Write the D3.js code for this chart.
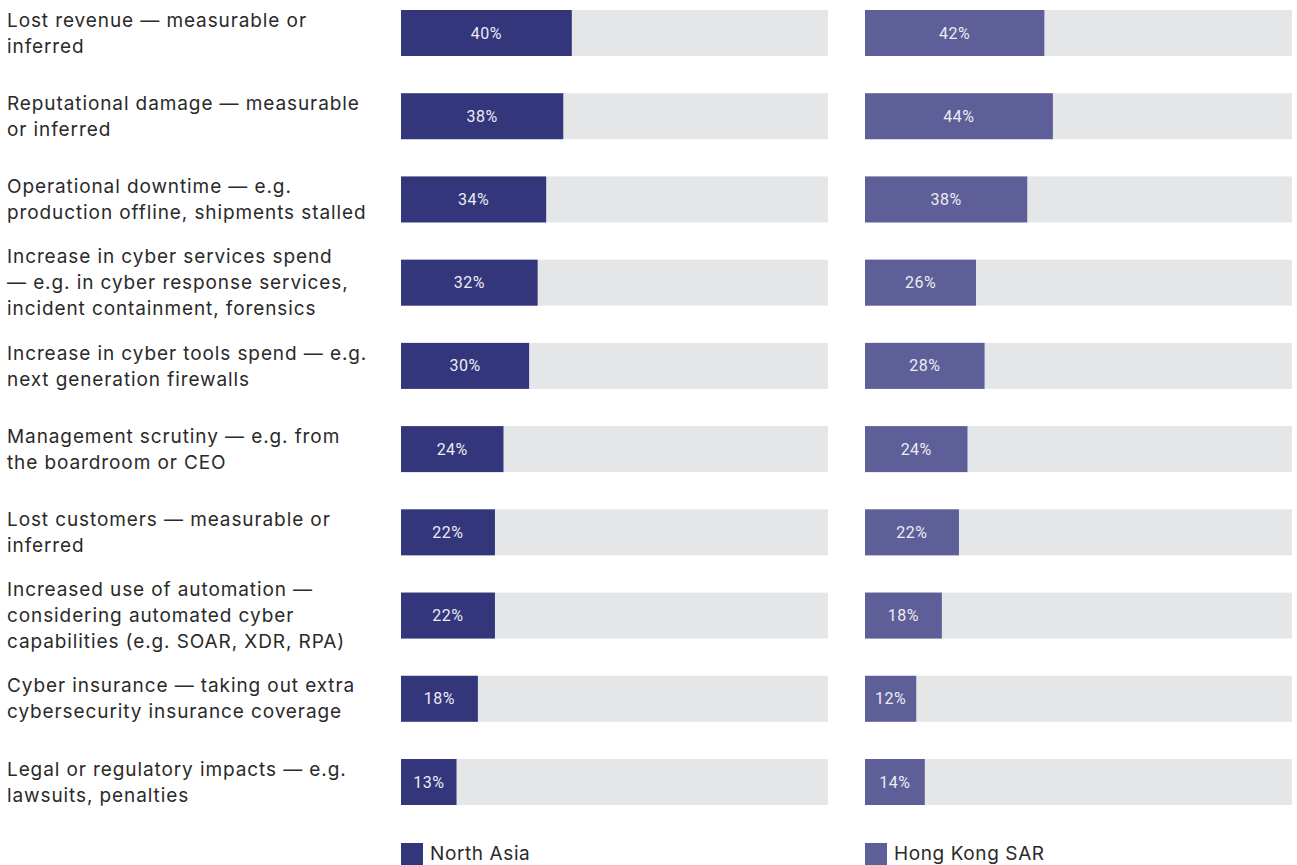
<!DOCTYPE html>
<html>
<head>
<meta charset="utf-8">
<script src="https://cdn.jsdelivr.net/npm/d3@7"></script>
<style>
  body { margin: 0; background: #fff; }
  svg { display: block; }
</style>
</head>
<body>
<div></div>
<script>
'use strict';

// Categories (each line of the label is a separate entry)
var categories = [
  ["Lost revenue \u2014 measurable or", "inferred"],
  ["Reputational damage \u2014 measurable", "or inferred"],
  ["Operational downtime \u2014 e.g.", "production offline, shipments stalled"],
  ["Increase in cyber services spend", "\u2014 e.g. in cyber response services,", "incident containment, forensics"],
  ["Increase in cyber tools spend \u2014 e.g.", "next generation firewalls"],
  ["Management scrutiny \u2014 e.g. from", "the boardroom or CEO"],
  ["Lost customers \u2014 measurable or", "inferred"],
  ["Increased use of automation \u2014", "considering automated cyber", "capabilities (e.g. SOAR, XDR, RPA)"],
  ["Cyber insurance \u2014 taking out extra", "cybersecurity insurance coverage"],
  ["Legal or regulatory impacts \u2014 e.g.", "lawsuits, penalties"]
];
var northAsia = [40, 38, 34, 32, 30, 24, 22, 22, 18, 13];
var hongKong = [42, 44, 38, 26, 28, 24, 22, 18, 12, 14];
var seriesNames = ["North Asia", "Hong Kong SAR"];

var svgWidth = 1297;
var svgHeight = 865;
var colors = ["#33367a", "#5e5f98"];
var trackColor = "#e5e6e8";
var barHeight = 46;

var keys = categories.map(function(d, i) { return i; });

var yScale = d3.scalePoint()
    .domain(keys)
    .range([33, 782]);

var xNA = d3.scaleLinear().domain([0, 100]).range([401, 828]);
var xHK = d3.scaleLinear().domain([0, 100]).range([865, 1292]);

var svg = d3.select("body").select("div")
  .append("svg")
    .attr("width", svgWidth)
    .attr("height", svgHeight);

// Category labels
var labels = svg.append("g")
    .attr("font-family", "Inter, sans-serif")
    .attr("font-size", 19)
    .attr("letter-spacing", 0.9)
    .attr("fill", "#2a2a2a");

labels.selectAll("text")
  .data(categories)
  .enter().append("text")
    .attr("x", 7)
    .attr("y", function(d, i) { return yScale(i) - (d.length - 1) * 13; })
    .each(function(lines) {
      var t = d3.select(this);
      lines.forEach(function(line, j) {
        t.append("tspan")
          .attr("x", 7)
          .attr("dy", j === 0 ? "0.35em" : 26)
          .text(line);
      });
    });

function drawSeries(values, xScale, color) {
  var g = svg.append("g");

  g.selectAll("rect.track")
    .data(values)
    .enter().append("rect")
      .attr("class", "track")
      .attr("x", xScale(0))
      .attr("y", function(d, i) { return yScale(i) - barHeight / 2; })
      .attr("width", xScale(100) - xScale(0))
      .attr("height", barHeight)
      .attr("fill", trackColor);

  g.selectAll("rect.bar")
    .data(values)
    .enter().append("rect")
      .attr("class", "bar")
      .attr("x", xScale(0))
      .attr("y", function(d, i) { return yScale(i) - barHeight / 2; })
      .attr("width", function(d) { return xScale(d) - xScale(0); })
      .attr("height", barHeight)
      .attr("fill", color);

  g.selectAll("text")
    .data(values)
    .enter().append("text")
      .attr("x", function(d) { return (xScale(0) + xScale(d)) / 2; })
      .attr("y", function(d, i) { return yScale(i); })
      .attr("dy", "0.35em")
      .attr("text-anchor", "middle")
      .attr("font-family", "Roboto, sans-serif")
      .attr("font-size", 16)
      .attr("letter-spacing", 0.5)
      .attr("fill", "#ecebf4")
      .text(function(d) { return d + "%"; });
}

drawSeries(northAsia, xNA, colors[0]);
drawSeries(hongKong, xHK, colors[1]);

// Legend
var legend = svg.append("g");
var legendX = [xNA(0), xHK(0)];

legend.selectAll("rect")
  .data(seriesNames)
  .enter().append("rect")
    .attr("x", function(d, i) { return legendX[i]; })
    .attr("y", 843)
    .attr("width", 22)
    .attr("height", 22)
    .attr("fill", function(d, i) { return colors[i]; });

legend.selectAll("text")
  .data(seriesNames)
  .enter().append("text")
    .attr("x", function(d, i) { return legendX[i] + 29; })
    .attr("y", 860)
    .attr("font-family", "Inter, sans-serif")
    .attr("font-size", 19)
    .attr("letter-spacing", 0.6)
    .attr("fill", "#2a2a2a")
    .text(function(d) { return d; });
</script>
</body>
</html>
